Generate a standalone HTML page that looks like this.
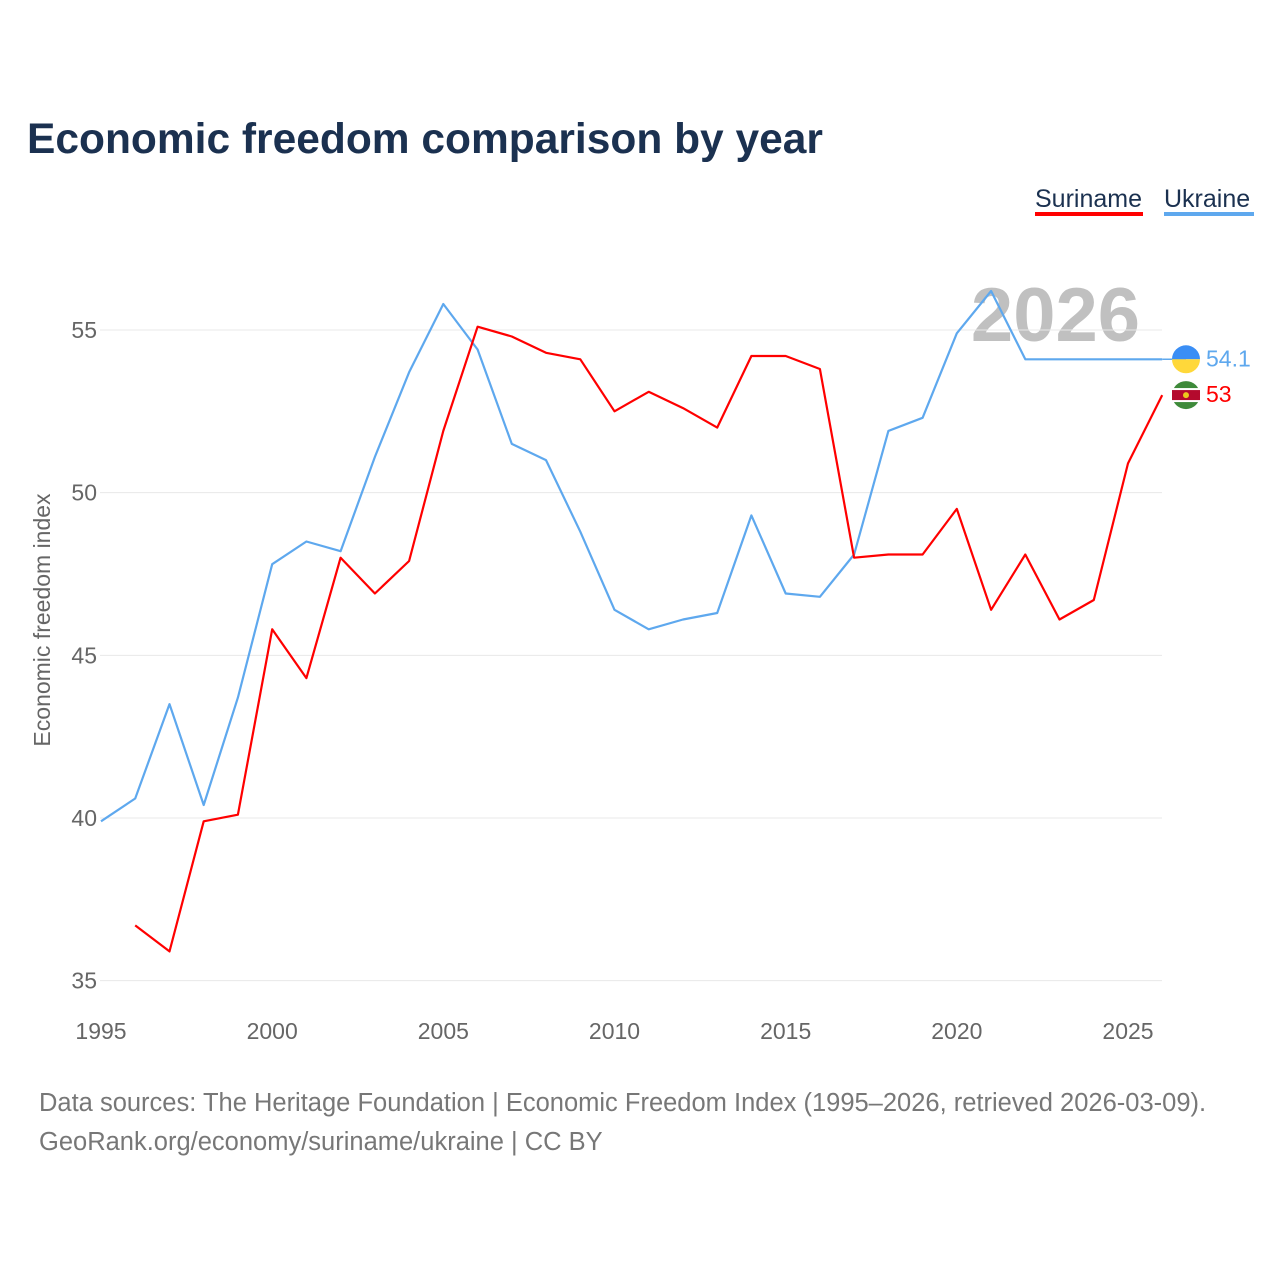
<!DOCTYPE html>
<html><head><meta charset="utf-8"><style>
body{margin:0;background:#fff;font-family:"Liberation Sans",sans-serif}
</style></head><body>
<svg id="chart" width="1280" height="1280" viewBox="0 0 1280 1280" xmlns="http://www.w3.org/2000/svg">
<rect width="1280" height="1280" fill="#fff"/>
<text x="27" y="153" font-size="42.5" font-weight="bold" fill="#1b3150">Economic freedom comparison by year</text>
<g>
<text x="1035" y="207" font-size="25" fill="#1b3150">Suriname</text>
<rect x="1035" y="212" width="108" height="4" fill="#ff0000"/></g>
<g>
<text x="1164" y="207" font-size="25" fill="#1b3150">Ukraine</text>
<rect x="1164" y="212" width="90" height="4" fill="#5ea8ee"/></g>
<text x="1140" y="341" text-anchor="end" font-size="76" font-weight="bold" fill="#c0c0c0">2026</text>
<text transform="translate(50,620) rotate(-90)" text-anchor="middle" font-size="23" fill="#666">Economic freedom index</text>
<g id="grid"></g><g id="series"></g>
<text x="39" y="1111" font-size="25.5" fill="#777">Data sources: The Heritage Foundation | Economic Freedom Index (1995–2026, retrieved 2026-03-09).</text>
<text x="39" y="1150" font-size="25.5" fill="#777">GeoRank.org/economy/suriname/ukraine | CC BY</text>
</svg>
<script>
const years=[1995,1996,1997,1998,1999,2000,2001,2002,2003,2004,2005,2006,2007,2008,2009,2010,2011,2012,2013,2014,2015,2016,2017,2018,2019,2020,2021,2022,2023,2024,2025,2026];
const ukraine=[39.9,40.6,43.5,40.4,43.7,47.8,48.5,48.2,51.1,53.7,55.8,54.4,51.5,51.0,48.8,46.4,45.8,46.1,46.3,49.3,46.9,46.8,48.1,51.9,52.3,54.9,56.2,54.1,54.1,54.1,54.1,54.1];
const suriname=[null,36.7,35.9,39.9,40.1,45.8,44.3,48.0,46.9,47.9,51.9,55.1,54.8,54.3,54.1,52.5,53.1,52.6,52.0,54.2,54.2,53.8,48.0,48.1,48.1,49.5,46.4,48.1,46.1,46.7,50.9,53.0];
const yTicks=[35,40,45,50,55];
const xTicks=[1995,2000,2005,2010,2015,2020,2025];
const X=y=>101+(y-1995)*1027/30;
const Y=v=>818-(v-40)*488/15;
const NS="http://www.w3.org/2000/svg";
function mk(tag,attrs,parent){const e=document.createElementNS(NS,tag);for(const k in attrs)e.setAttribute(k,attrs[k]);parent.appendChild(e);return e;}
const grid=document.getElementById('grid'),ser=document.getElementById('series');
yTicks.forEach(t=>{
 const l=mk('line',{x1:100,x2:1162,y1:Y(t),y2:Y(t),stroke:'#e8e8e8','stroke-width':1},grid);
 
 
 const tx=mk('text',{x:97,y:Y(t)+8,'text-anchor':'end','font-size':23,fill:'#666'},grid);tx.textContent=t;
 
 
});
xTicks.forEach(t=>{
 const tx=mk('text',{x:X(t),y:1039,'text-anchor':'middle','font-size':23,fill:'#666'},grid);tx.textContent=t;
 
 
});
function line(vals,color,name){
 let d='';vals.forEach((v,i)=>{if(v==null)return;d+=(d?'L':'M')+X(years[i]).toFixed(1)+','+Y(v).toFixed(1);});
 const p=mk('path',{d:d,fill:'none',stroke:color,'stroke-width':2.2,'stroke-linejoin':'round'},ser);
 
 
}
line(ukraine,'#5ea8ee','ukraine-line');
line(suriname,'#ff0000','suriname-line');
const lu=ukraine[ukraine.length-1],ls=suriname[suriname.length-1];
const uk=mk('line',{x1:X(2026),x2:1186,y1:Y(lu),y2:Y(lu),stroke:'#5ea8ee','stroke-width':1.5},ser);


const fu=mk('g',{},ser);


mk('path',{d:`M1172,${Y(lu)} a14,14 0 0 1 28,0 z`,fill:'#3a8ef5'},fu);
mk('path',{d:`M1172,${Y(lu)} a14,14 0 0 0 28,0 z`,fill:'#ffd83a'},fu);
const fs=mk('g',{},ser);


const cy=Y(ls);
mk('circle',{cx:1186,cy:cy,r:14,fill:'#3e8a3a'},fs);
mk('rect',{x:1172,y:cy-7,width:28,height:14,fill:'#fff'},fs);
mk('rect',{x:1172,y:cy-5,width:28,height:10,fill:'#b40a2d'},fs);
mk('circle',{cx:1186,cy:cy,r:3,fill:'#ecc81d'},fs);
const t1=mk('text',{x:1206,y:Y(lu)+7,'font-size':23,fill:'#5ea8ee'},ser);t1.textContent=lu;


const t2=mk('text',{x:1206,y:cy+7,'font-size':23,fill:'#ff0000'},ser);t2.textContent=ls;


</script>
</body></html>
